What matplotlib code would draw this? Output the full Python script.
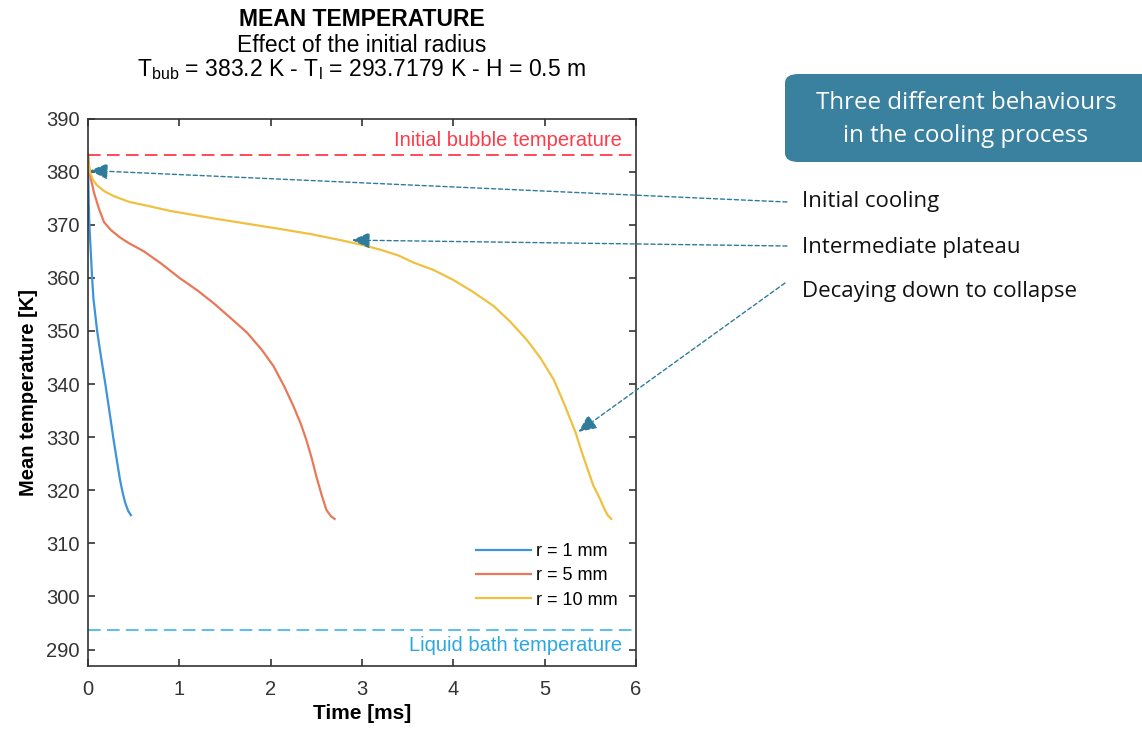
import numpy as np
import matplotlib
matplotlib.use("Agg")
import matplotlib.pyplot as plt
from matplotlib.patches import FancyBboxPatch

# values (time in ms, temperature in K)
t_r1 = [0, 0.003, 0.008, 0.015, 0.03, 0.045, 0.06, 0.08, 0.1, 0.13, 0.16, 0.19,
        0.235, 0.28, 0.32, 0.35, 0.38, 0.41, 0.44, 0.47]
T_r1 = [383.2, 379, 374, 370, 365, 360, 356, 353, 350, 346.5, 343.2, 340,
        334.8, 329.5, 325.2, 322, 319.5, 317.5, 316.1, 315.3]

t_r5 = [0, 0.02, 0.066, 0.12, 0.175, 0.25, 0.35, 0.45, 0.61, 0.8, 1.0, 1.2, 1.37,
        1.55, 1.74, 1.9, 2.03, 2.15, 2.25, 2.33, 2.39, 2.45, 2.5, 2.56, 2.61, 2.66, 2.7]
T_r5 = [383.2, 379.5, 376, 373, 370.5, 369, 367.6, 366.5, 365, 362.7, 360, 357.6, 355.3,
        352.6, 349.7, 346.5, 343.4, 339.5, 335.8, 332.5, 329.5, 326, 322.6, 319, 316.3, 315.1, 314.6]

t_r10 = [0, 0.01, 0.03, 0.06, 0.1, 0.18, 0.28, 0.45, 0.64, 0.9, 1.37, 1.7, 2.1, 2.45,
         2.79, 3.0, 3.2, 3.4, 3.56, 3.78, 4.0, 4.22, 4.44, 4.62, 4.8, 4.95, 5.1, 5.22,
         5.34, 5.4, 5.46, 5.53, 5.61, 5.65, 5.69, 5.73]
T_r10 = [383.2, 381, 379.5, 378.3, 377.4, 376.3, 375.4, 374.3, 373.6, 372.6, 371.2, 370.3, 369.2, 368.2,
         367, 366.2, 365.3, 364.2, 362.9, 361.5, 359.6, 357.3, 354.7, 351.8, 348.4, 345, 340.8, 336,
         330.8, 327.5, 324.5, 321, 318.2, 316.6, 315.3, 314.6]

labels = ["r = 1 mm", "r = 5 mm", "r = 10 mm"]
T_bub = 383.2
T_l = 293.7179

plt.rcParams['font.family'] = ['Liberation Sans', 'DejaVu Sans']
plt.rcParams['mathtext.fontset'] = 'custom'
plt.rcParams['mathtext.rm'] = 'Liberation Sans'

fig = plt.figure(figsize=(11.42, 7.3), dpi=100)
ax = fig.add_axes([88/1142, 64/730, 548/1142, 547.5/730])

ax.plot(t_r1, T_r1, color='#3d93dc', lw=1.6, label=labels[0])
ax.plot(t_r5, T_r5, color='#e8785a', lw=1.6, label=labels[1])
ax.plot(t_r10, T_r10, color='#f0c040', lw=1.6, label=labels[2])

ax.axhline(T_bub, color='#ff3b4a', ls=(0, (7, 3.5)), lw=1.3)
ax.axhline(T_l, color='#4db8ec', ls=(0, (7, 3.5)), lw=1.3)
ax.text(5.85, T_bub + 0.9, "Initial bubble temperature", color='#ff3b4a',
        ha='right', va='bottom', fontsize=14.5)
ax.text(5.85, T_l - 1.2, "Liquid bath temperature", color='#2ba7e3',
        ha='right', va='top', fontsize=14.5)

ax.set_xlim(0, 6)
ax.set_ylim(286.9, 390)
ax.set_xticks(range(0, 7))
ax.set_yticks(range(290, 391, 10))
ax.tick_params(direction='in', top=True, right=True, length=5, width=1.2,
               labelsize=14.5, colors='#333333')
ax.tick_params(axis='x', pad=10)
ax.tick_params(axis='y', pad=6)
for s in ax.spines.values():
    s.set_linewidth(1.2)
    s.set_color('#333333')

ax.set_xlabel("Time [ms]", fontsize=15, fontweight='bold', labelpad=4)
ax.set_ylabel("Mean temperature [K]", fontsize=14.5, fontweight='bold', labelpad=6)

ax.legend(loc='lower right', bbox_to_anchor=(0.997, 0.075), frameon=False,
          fontsize=13, handlelength=3.05, handletextpad=0.3, labelspacing=0.4)

fig.text(362/1142, 1 - 19/730, "MEAN TEMPERATURE", ha='center', va='center',
         fontsize=16.5, fontweight='bold')
fig.text(362/1142, 1 - 45/730, "Effect of the initial radius", ha='center',
         va='center', fontsize=16.5)
fig.text(362/1142, 1 - 70/730,
         r"T$_{\rm bub}$ = 383.2 K - T$_{\rm l}$ = 293.7179 K - H = 0.5 m",
         ha='center', va='center', fontsize=16.5)

# callout box
box = FancyBboxPatch((785/1142, 1 - 162/730), 400/1142, 88/730,
                     boxstyle="round,pad=0,rounding_size=0.012",
                     transform=fig.transFigure, facecolor='#3a809f',
                     edgecolor='none', clip_on=False)
fig.add_artist(box)
fig.text(966/1142, 1 - 103/730, "Three different behaviours", color='white',
         ha='center', va='center', fontsize=17.4, family='Open Sans')
fig.text(966/1142, 1 - 136/730, "in the cooling process", color='white',
         ha='center', va='center', fontsize=17.4, family='Open Sans')

notes = ["Initial cooling", "Intermediate plateau", "Decaying down to collapse"]
note_y = [202, 247, 291]
tails = [(787, 202), (787, 246), (785, 283)]
heads = [(0.02, 380.2), (2.89, 367.1), (5.37, 331.0)]
for txt, y, tail, head in zip(notes, note_y, tails, heads):
    fig.text(802/1142, 1 - y/730, txt, ha='left', va='center', fontsize=16,
             family='Open Sans', color='#111111')
    ax.annotate("", xy=head, xycoords='data',
                xytext=(tail[0]/1142, 1 - tail[1]/730), textcoords='figure fraction',
                annotation_clip=False,
                arrowprops=dict(arrowstyle='-|>,head_length=1.1,head_width=0.5',
                                color='#2f7b9c', lw=1.0, ls=(0, (3, 2)),
                                shrinkA=0, shrinkB=0))

fig.savefig("out.png", dpi=100)
